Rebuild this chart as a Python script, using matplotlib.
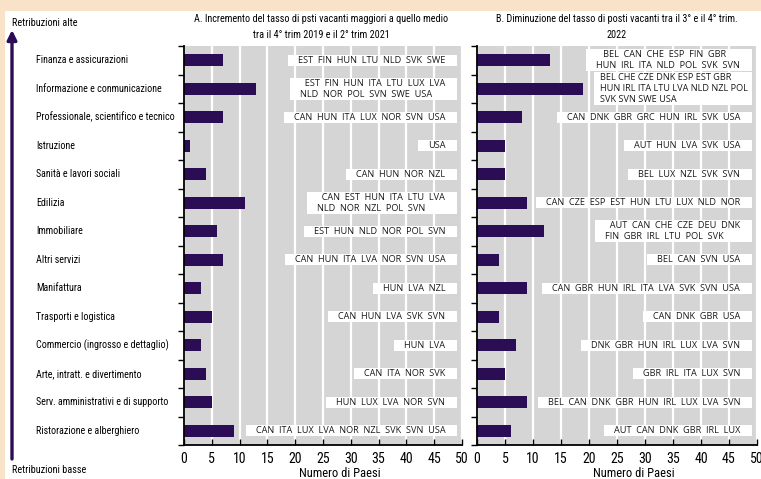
import numpy as np
import matplotlib.pyplot as plt
from matplotlib import font_manager
from matplotlib.patches import Rectangle
from matplotlib.transforms import Bbox, blended_transform_factory

# Settori ordinati da retribuzioni alte a retribuzioni basse
settori = [
    "Finanza e assicurazioni",
    "Informazione e conmunicazione",
    "Professionale, scientifico e tecnico",
    "Istruzione",
    "Sanità e lavori sociali",
    "Edilizia",
    "Immobiliare",
    "Altri servizi",
    "Manifattura",
    "Trasporti e logistica",
    "Commercio (ingrosso e dettaglio)",
    "Arte, intratt. e divertimento",
    "Serv. amministrativi e di supporto",
    "Ristorazione e alberghiero",
]

valori_a = [7, 13, 7, 1, 4, 11, 6, 7, 3, 5, 3, 4, 5, 9]
valori_b = [13, 19, 8, 5, 5, 9, 12, 4, 9, 4, 7, 5, 9, 6]

paesi_a = [
    "EST  FIN  HUN  LTU  NLD  SVK  SWE",
    "  EST  FIN  HUN  ITA  LTU  LUX  LVA\nNLD  NOR  POL  SVN  SWE  USA",
    "CAN  HUN  ITA  LUX  NOR  SVN  USA",
    "USA",
    "CAN  HUN  NOR  NZL",
    "  CAN  EST  HUN  ITA  LTU  LVA\nNLD  NOR  NZL  POL  SVN",
    "EST  HUN  NLD  NOR  POL  SVN",
    "CAN  HUN  ITA  LVA  NOR  SVN  USA",
    "HUN  LVA  NZL",
    "CAN  HUN  LVA  SVK  SVN",
    "HUN  LVA",
    "CAN  ITA  NOR  SVK",
    "HUN  LUX  LVA  NOR  SVN",
    "CAN  ITA  LUX  LVA  NOR  NZL  SVK  SVN  USA",
]

paesi_b = [
    "   BEL  CAN  CHE  ESP  FIN  GBR\nHUN  IRL  ITA  NLD  POL  SVK  SVN",
    "BEL CHE CZE DNK ESP EST GBR\nHUN IRL ITA LTU LVA NLD NZL POL\nSVK SVN SWE USA",
    "CAN  DNK  GBR  GRC  HUN  IRL  SVK  USA",
    "AUT  HUN  LVA  SVK  USA",
    "BEL  LUX  NZL  SVK  SVN",
    "CAN  CZE  ESP  EST  HUN  LTU  LUX  NLD  NOR",
    "  AUT  CAN  CHE  CZE  DEU  DNK\nFIN  GBR  IRL  LTU  POL  SVK",
    "BEL  CAN  SVN  USA",
    "CAN  GBR  HUN  IRL  ITA  LVA  SVK  SVN  USA",
    "CAN  DNK  GBR  USA",
    "DNK  GBR  HUN  IRL  LUX  LVA  SVN",
    "GBR  IRL  ITA  LUX  SVN",
    "BEL  CAN  DNK  GBR  HUN  IRL  LUX  LVA  SVN",
    "AUT  CAN  DNK  GBR  IRL  LUX",
]

titolo_a = ("A. Incremento del tasso di psti vacanti maggiori a quello medio\n"
            "tra il 4° trim 2019 e il 2° trim 2021")
titolo_b = ("B. Diminuzione del tasso di posti vacanti tra il 3° e il 4° trim.\n"
            "2022")

viola = "#2a0d55"
grigio = "#d5d5d5"
beige = "#f9e3c8"

# carattere stretto se disponibile, altrimenti Roboto
nomi = {f.name for f in font_manager.fontManager.ttflist}
stretto = "Roboto"
for n in ["Roboto Condensed", "Liberation Sans Narrow", "Open Sans Condensed",
          "Noto Sans Condensed", "DejaVu Sans Condensed", "Arial Narrow"]:
    if n in nomi:
        stretto = n
        break
f_stretto = dict(family=[stretto, "DejaVu Sans"])
f_paesi = dict(family=["Open Sans", "DejaVu Sans"])

W, H = 761, 479
fig = plt.figure(figsize=(W / 100, H / 100), dpi=100, facecolor="white")
r = fig.canvas.get_renderer()


def adatta(testi, larghezza):
    # riduce la dimensione finché il testo più largo sta nella larghezza data
    w = max(t.get_window_extent(r).width for t in testi)
    for t in testi:
        t.set_fontsize(t.get_fontsize() * larghezza / w)


# cornice beige in alto e a sinistra
fig.add_artist(Rectangle((0, 1 - 11 / H), 1, 11 / H, transform=fig.transFigure,
                         facecolor=beige, edgecolor="none", zorder=0))
fig.add_artist(Rectangle((0, 0), 5 / W, 1, transform=fig.transFigure,
                         facecolor=beige, edgecolor="none", zorder=0))

y = np.arange(len(settori))
ax_a = fig.add_axes([184 / W, 1 - 445 / H, 278 / W, 399 / H])
ax_b = fig.add_axes([477 / W, 1 - 445 / H, 280 / W, 399 / H])

testi = []
titoli = []
for ax, valori, paesi, titolo, tx in [(ax_a, valori_a, paesi_a, titolo_a, 321),
                                      (ax_b, valori_b, paesi_b, titolo_b, 617)]:
    ax.set_facecolor(grigio)
    ax.barh(y, valori, height=0.42, color=viola, zorder=2)
    ax.set_xlim(0, 50)
    ax.set_ylim(13.5, -0.5)
    ax.set_xticks(np.arange(0, 51, 5))
    ax.set_yticks(np.arange(-0.5, 14, 1))
    ax.set_yticklabels([])
    ax.grid(axis="x", color="white", lw=1.6)
    ax.set_axisbelow(True)
    for s in ["top", "right"]:
        ax.spines[s].set_visible(False)
    for s in ["left", "bottom"]:
        ax.spines[s].set_linewidth(1.3)
    ax.tick_params(axis="y", direction="out", length=4, width=1)
    ax.tick_params(axis="x", direction="in", length=4, width=1, pad=5)
    for lab in ax.get_xticklabels():
        lab.set_fontsize(10)
        lab.set_family(f_stretto["family"])
    ax.set_xlabel("Numero di Paesi", fontsize=9, labelpad=0, **f_stretto)
    ax.xaxis.label.set_va("center")
    ax.xaxis.set_label_coords(0.56, -0.072)
    for yi, p in zip(y, paesi):
        # l'elenco su tre righe è più vicino al bordo destro
        xr = 48.3 if p.count("\n") > 1 else 47
        t = ax.text(xr, yi, p, ha="right", va="center", ma="left",
                    fontsize=6.6, color="#1a1a1a", zorder=4,
                    linespacing=1.3, **f_paesi)
        testi.append(t)
    titoli.append(fig.text(tx / W, 1 - 27 / H, titolo, ha="center", va="center",
                           fontsize=10, linespacing=1.75, **f_stretto))
adatta(titoli, 250)

# etichette dei settori a sinistra
tr = blended_transform_factory(fig.transFigure, ax_a.transData)
etichette = [fig.text(36 / W, yi, s, transform=tr, ha="left", va="center",
                      fontsize=10, **f_stretto) for yi, s in zip(y, settori)]
adatta(etichette, 137)

estremi = [fig.text(12 / W, 1 - 23 / H, "Retribuzioni alte", ha="left", va="center",
                    fontsize=10, **f_stretto),
           fig.text(12 / W, 1 - 470 / H, "Retribuzioni basse", ha="left",
                    va="center", fontsize=10, **f_stretto)]
adatta(estremi, 74)

fig.add_artist(plt.Annotation("", xy=(12, H - 30), xytext=(12, H - 459),
                              xycoords="figure pixels", textcoords="figure pixels",
                              arrowprops=dict(arrowstyle="-|>", color=viola, lw=2.4,
                                              mutation_scale=14, shrinkA=0, shrinkB=0)))

# riquadri bianchi dietro gli elenchi dei paesi
fig.canvas.draw()
for t in testi:
    ax = t.axes
    bb = t.get_window_extent(r)
    x1 = ax.transData.transform((49.1, 0))[0]
    pad = 6 if t.get_text().count("\n") > 1 else 10
    box = Bbox([[bb.x0 - pad, bb.y0 - 1], [x1, bb.y1 + 1]])
    db = box.transformed(ax.transData.inverted())
    ax.add_patch(Rectangle((db.x0, db.y0), db.width, db.height,
                           facecolor="white", edgecolor="none", zorder=3))

fig.savefig("out.png", dpi=100)
